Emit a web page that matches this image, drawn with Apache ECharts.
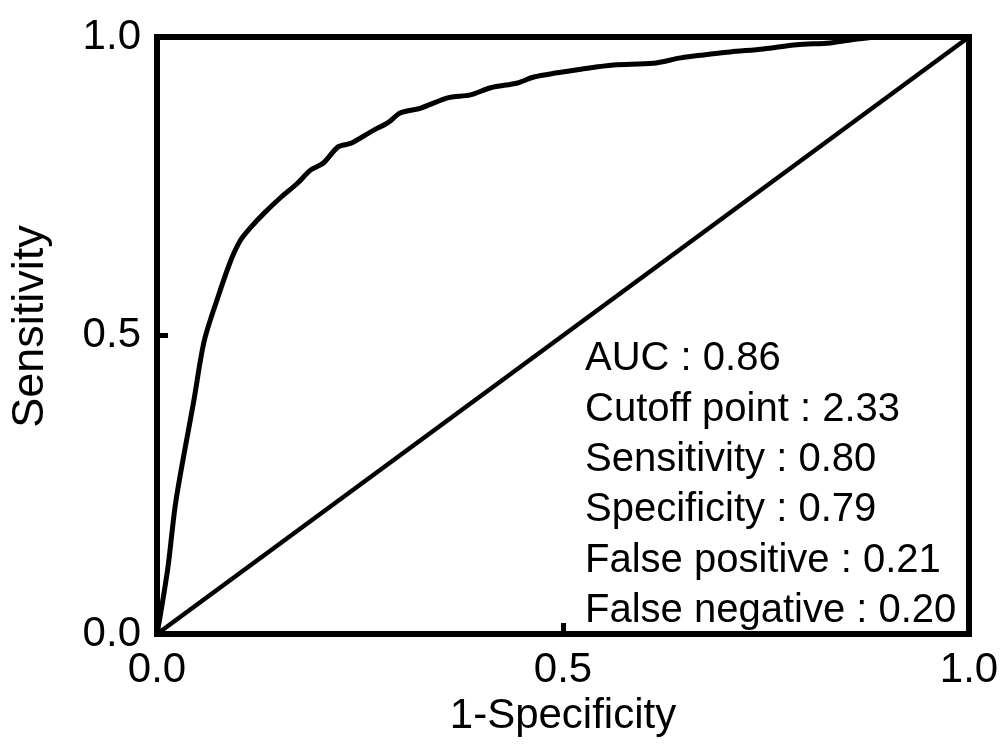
<!DOCTYPE html>
<html>
<head>
<meta charset="utf-8">
<script src="https://cdn.jsdelivr.net/npm/echarts@6/dist/echarts.min.js"></script>
<style>
  html, body { margin: 0; padding: 0; background: #fff; }
  #chart { width: 1003px; height: 744px; }
</style>
</head>
<body>
<div id="chart"></div>
<script>
// ROC curve: false positive rate (1-Specificity) vs true positive rate (Sensitivity)
const fpr = [0, 0.0037, 0.0135, 0.0234, 0.0455, 0.058, 0.075, 0.091, 0.103, 0.116, 0.132,
  0.153, 0.173, 0.189, 0.205, 0.223, 0.239, 0.267, 0.284, 0.300, 0.325, 0.358, 0.386,
  0.411, 0.444, 0.464, 0.493, 0.522, 0.562, 0.611, 0.645, 0.673, 0.706, 0.747, 0.788,
  0.829, 0.854, 0.890, 1.0];
const tpr = [0, 0.028, 0.112, 0.224, 0.392, 0.490, 0.564, 0.626, 0.660, 0.682, 0.705,
  0.732, 0.755, 0.777, 0.789, 0.816, 0.822, 0.844, 0.856, 0.873, 0.881, 0.898, 0.903,
  0.915, 0.923, 0.933, 0.940, 0.946, 0.953, 0.956, 0.965, 0.970, 0.975, 0.980, 0.987,
  0.990, 0.995, 1.0, 1.0];

// Chance (reference) line
const chanceX = [0, 1];
const chanceY = [0, 1];

// Summary statistics shown in the lower right
const statNames = ['AUC', 'Cutoff point', 'Sensitivity', 'Specificity', 'False positive', 'False negative'];
const statValues = ['0.86', '2.33', '0.80', '0.79', '0.21', '0.20'];

const FONT = 'Liberation Sans, Arial, sans-serif';

const chart = echarts.init(document.getElementById('chart'), null, { renderer: 'canvas' });

const rocData = fpr.map((x, i) => [x, tpr[i]]);
const chanceData = chanceX.map((x, i) => [x, chanceY[i]]);
const statText = statNames.map((n, i) => n + ' : ' + statValues[i]).join('\n');

chart.setOption({
  backgroundColor: '#fff',
  animation: false,
  grid: {
    left: 156, right: 34, top: 37, bottom: 110,
    show: true, borderColor: '#000', borderWidth: 6, backgroundColor: 'transparent'
  },
  xAxis: {
    type: 'value', min: 0, max: 1, interval: 0.5,
    name: '1-Specificity', nameLocation: 'middle', nameGap: 58,
    nameTextStyle: { fontFamily: FONT, fontSize: 42, color: '#000' },
    axisLine: { show: false },
    axisTick: { show: true, inside: true, length: 11, lineStyle: { color: '#000', width: 5 } },
    axisLabel: { margin: 15, fontFamily: FONT, fontSize: 42, color: '#000',
      showMinLabel: true, showMaxLabel: true, formatter: v => v.toFixed(1) },
    splitLine: { show: false }
  },
  yAxis: {
    type: 'value', min: 0, max: 1, interval: 0.5,
    name: 'Sensitivity', nameLocation: 'middle', nameGap: 104,
    nameTextStyle: { fontFamily: FONT, fontSize: 45, color: '#000', padding: [0, 0, 0, 18] },
    axisLine: { show: false },
    axisTick: { show: true, inside: true, length: 11, lineStyle: { color: '#000', width: 5 } },
    axisLabel: { margin: 16, fontFamily: FONT, fontSize: 42, color: '#000',
      showMinLabel: true, showMaxLabel: true, formatter: v => v.toFixed(1) },
    splitLine: { show: false }
  },
  graphic: [{
    type: 'text',
    left: 585, top: 334,
    z: 10,
    style: {
      text: statText,
      fontFamily: FONT, fontSize: 40, lineHeight: 50.4,
      fill: '#000'
    }
  }],
  series: [
    {
      type: 'line', data: chanceData, symbol: 'none',
      lineStyle: { color: '#000', width: 4.5 }, clip: true
    },
    {
      type: 'line', data: rocData, symbol: 'none', smooth: 0.3,
      lineStyle: { color: '#000', width: 5, join: 'round', cap: 'round' }, clip: true
    }
  ]
});
</script>
</body>
</html>
